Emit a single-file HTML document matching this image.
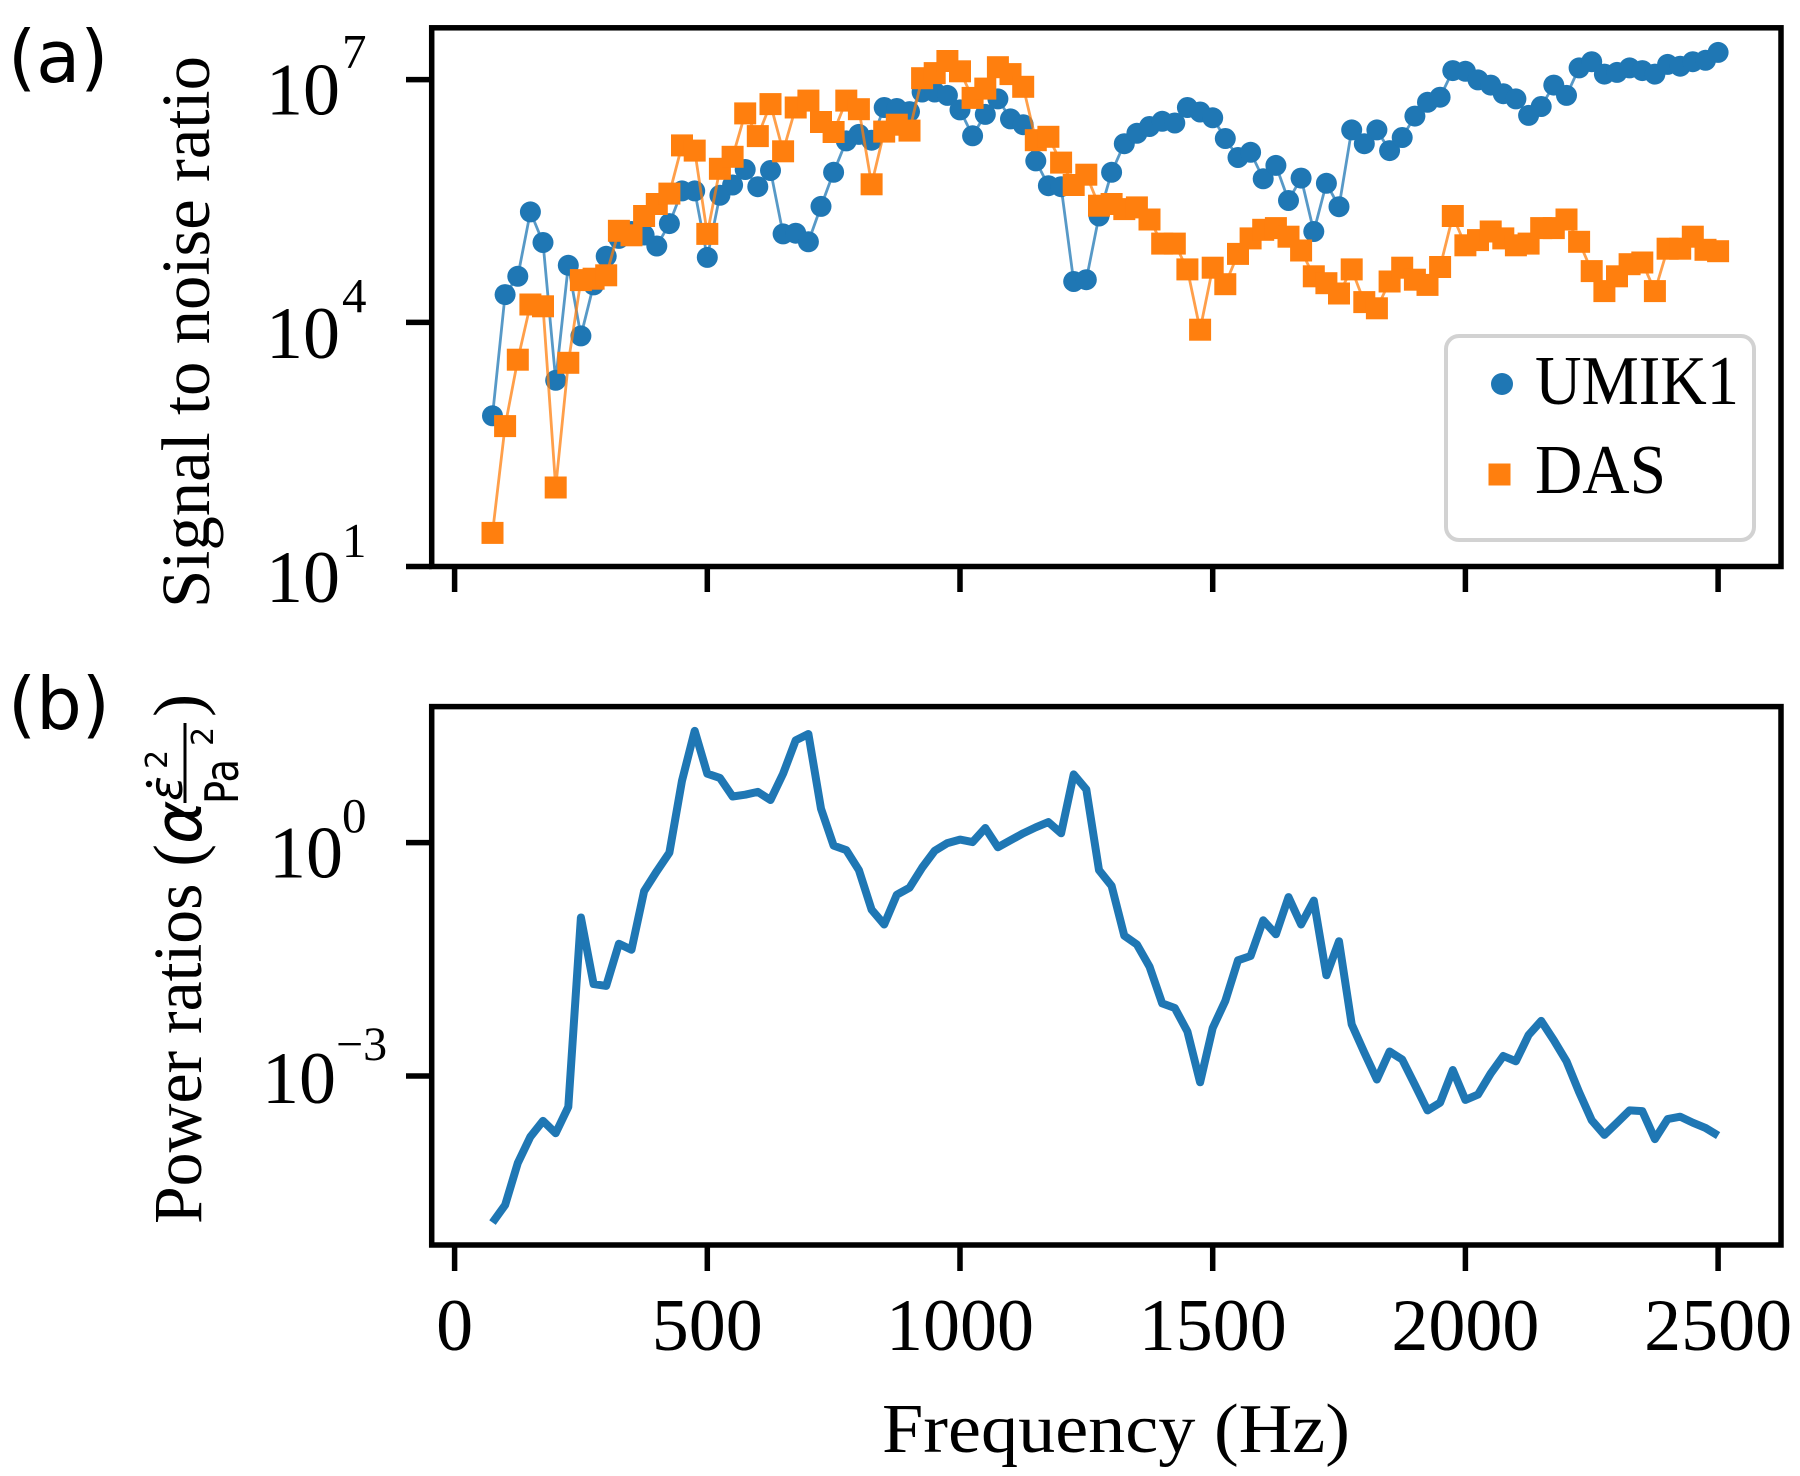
<!DOCTYPE html>
<html>
<head>
<meta charset="utf-8">
<style>
html,body{margin:0;padding:0;background:#fff;}
svg{display:block;}
.serif{font-family:"Liberation Serif","Times New Roman",serif;fill:#000;}
.sans{font-family:"DejaVu Sans","Liberation Sans",sans-serif;fill:#000;}
</style>
</head>
<body>
<svg width="1800" height="1476" viewBox="0 0 1800 1476" xmlns="http://www.w3.org/2000/svg">
<defs>
  <marker id="mc" markerUnits="userSpaceOnUse" markerWidth="24" markerHeight="24" refX="12" refY="12" viewBox="0 0 24 24" overflow="visible">
    <circle cx="12" cy="12" r="10.5" fill="#1f77b4"/>
  </marker>
  <marker id="ms" markerUnits="userSpaceOnUse" markerWidth="24" markerHeight="24" refX="12" refY="12" viewBox="0 0 24 24" overflow="visible">
    <rect x="1" y="1" width="22" height="22" fill="#ff7f0e"/>
  </marker>
</defs>

<!-- ===== Panel (a) ===== -->
<text class="sans" x="8" y="82" font-size="72">(a)</text>

<!-- UMIK1 series -->
<polyline fill="none" stroke="#1f77b4" stroke-opacity="0.75" stroke-width="2.8" stroke-linejoin="round"
 marker-start="url(#mc)" marker-mid="url(#mc)" marker-end="url(#mc)"
 points="492.5,415.8 505.1,294.6 517.8,276.3 530.4,211.9 543.0,242.5 555.7,380.3 568.3,265.3 580.9,335.9 593.6,284.9 606.2,256.3 618.9,238.4 631.5,231.5 644.1,235.0 656.8,246.0 669.4,223.6 682.0,190.9 694.7,190.9 707.3,257.4 719.9,195.3 732.6,185.0 745.2,169.5 757.8,186.7 770.5,170.5 783.1,233.9 795.7,233.2 808.4,241.8 821.0,206.4 833.6,172.3 846.3,140.9 858.9,134.4 871.6,140.2 884.2,107.5 896.8,108.5 909.5,111.6 922.1,92.0 934.7,92.0 947.4,95.4 960.0,109.9 972.6,135.8 985.3,114.4 997.9,98.9 1010.5,118.9 1023.2,124.7 1035.8,160.9 1048.4,185.7 1061.1,186.7 1073.7,281.5 1086.3,279.7 1099.0,216.0 1111.6,172.3 1124.3,143.7 1136.9,133.3 1149.5,126.5 1162.2,121.3 1174.8,123.0 1187.4,107.5 1200.1,112.0 1212.7,117.8 1225.3,138.5 1238.0,157.5 1250.6,152.3 1263.2,178.8 1275.9,165.4 1288.5,200.5 1301.1,178.1 1313.8,231.5 1326.4,183.3 1339.0,206.7 1351.7,129.9 1364.3,143.7 1376.9,129.9 1389.6,150.6 1402.2,137.5 1414.9,116.1 1427.5,102.3 1440.1,97.2 1452.8,70.6 1465.4,71.3 1478.0,79.9 1490.7,85.1 1503.3,93.7 1515.9,98.9 1528.6,115.4 1541.2,106.5 1553.8,85.1 1566.5,95.4 1579.1,67.9 1591.7,61.7 1604.4,74.1 1617.0,72.4 1629.6,67.9 1642.3,70.6 1654.9,74.1 1667.6,64.4 1680.2,66.2 1692.8,61.7 1705.5,60.3 1718.1,52.4"/>

<!-- DAS series -->
<polyline fill="none" stroke="#ff7f0e" stroke-opacity="0.75" stroke-width="2.8" stroke-linejoin="round"
 marker-start="url(#ms)" marker-mid="url(#ms)" marker-end="url(#ms)"
 points="492.5,532.9 505.1,426.1 517.8,359.7 530.4,304.5 543.0,306.3 555.7,487.5 568.3,362.8 580.9,280.1 593.6,278.7 606.2,275.3 618.9,230.8 631.5,235.3 644.1,216.0 656.8,204.0 669.4,193.6 682.0,145.4 694.7,150.6 707.3,233.9 719.9,168.8 732.6,156.8 745.2,113.4 757.8,136.1 770.5,104.1 783.1,151.3 795.7,107.5 808.4,100.6 821.0,122.0 833.6,132.0 846.3,100.6 858.9,109.2 871.6,184.3 884.2,131.6 896.8,124.7 909.5,130.6 922.1,78.2 934.7,73.1 947.4,61.0 960.0,71.3 972.6,97.9 985.3,88.6 997.9,67.2 1010.5,74.1 1023.2,86.8 1035.8,140.2 1048.4,136.8 1061.1,162.6 1073.7,185.0 1086.3,174.7 1099.0,205.7 1111.6,204.0 1124.3,209.1 1136.9,207.4 1149.5,219.5 1162.2,243.6 1174.8,243.6 1187.4,269.4 1200.1,329.7 1212.7,267.7 1225.3,284.2 1238.0,253.9 1250.6,238.4 1263.2,229.8 1275.9,228.1 1288.5,236.7 1301.1,250.5 1313.8,276.3 1326.4,283.2 1339.0,293.5 1351.7,269.4 1364.3,302.1 1376.9,308.3 1389.6,281.5 1402.2,267.7 1414.9,279.7 1427.5,284.9 1440.1,267.0 1452.8,216.0 1465.4,245.3 1478.0,240.1 1490.7,231.5 1503.3,238.4 1515.9,245.3 1528.6,243.6 1541.2,228.1 1553.8,228.1 1566.5,219.5 1579.1,241.8 1591.7,271.1 1604.4,291.1 1617.0,276.3 1629.6,264.2 1642.3,262.5 1654.9,291.1 1667.6,248.7 1680.2,248.7 1692.8,236.7 1705.5,249.8 1718.1,251.2"/>

<!-- Legend -->
<rect x="1446" y="336" width="308" height="204" rx="13" ry="13" fill="#ffffff" fill-opacity="0.85" stroke="#d2d2d2" stroke-width="4"/>
<circle cx="1502" cy="384" r="11" fill="#1f77b4"/>
<rect x="1488.5" y="463.5" width="22" height="22" fill="#ff7f0e"/>
<text class="serif" x="1535" y="404" font-size="70" textLength="204" lengthAdjust="spacingAndGlyphs">UMIK1</text>
<text class="serif" x="1535" y="493" font-size="70" textLength="131" lengthAdjust="spacingAndGlyphs">DAS</text>

<!-- Axes frame (a) -->
<rect x="431.7" y="27.8" width="1349.3" height="538.7" fill="none" stroke="#000" stroke-width="5.5"/>
<!-- x ticks (a) -->
<g stroke="#000" stroke-width="5.5">
  <line x1="454.6" y1="566.5" x2="454.6" y2="592"/>
  <line x1="707.3" y1="566.5" x2="707.3" y2="592"/>
  <line x1="960.0" y1="566.5" x2="960.0" y2="592"/>
  <line x1="1212.7" y1="566.5" x2="1212.7" y2="592"/>
  <line x1="1465.4" y1="566.5" x2="1465.4" y2="592"/>
  <line x1="1718.1" y1="566.5" x2="1718.1" y2="592"/>
  <line x1="406" y1="79.6" x2="431.7" y2="79.6"/>
  <line x1="406" y1="322.4" x2="431.7" y2="322.4"/>
  <line x1="406" y1="566.5" x2="431.7" y2="566.5"/>
</g>
<!-- y tick labels (a) -->
<text class="serif" x="266" y="114.5" font-size="74">10</text>
<text class="serif" x="342" y="68" font-size="49">7</text>
<text class="serif" x="266" y="358" font-size="74">10</text>
<text class="serif" x="342" y="312" font-size="49">4</text>
<text class="serif" x="266" y="602" font-size="74">10</text>
<text class="serif" x="342" y="557" font-size="49">1</text>

<!-- y label (a) -->
<text class="serif" transform="translate(209,608) rotate(-90)" x="0" y="0" font-size="69" textLength="552" lengthAdjust="spacingAndGlyphs">Signal to noise ratio</text>

<!-- ===== Panel (b) ===== -->
<text class="sans" x="8" y="729" font-size="72">(b)</text>

<polyline fill="none" stroke="#1f77b4" stroke-width="8" stroke-linejoin="round" stroke-linecap="butt"
 points="492.5,1222.6 505.1,1205.1 517.8,1163.0 530.4,1136.7 543.0,1120.9 555.7,1133.2 568.3,1106.9 580.9,917.5 593.6,984.1 606.2,985.9 618.9,943.8 631.5,949.7 644.1,891.2 656.8,871.2 669.4,852.6 682.0,780.7 694.7,730.9 707.3,773.7 719.9,777.9 732.6,796.5 745.2,794.7 757.8,791.9 770.5,800.0 783.1,773.7 795.7,740.3 808.4,734.0 821.0,808.7 833.6,845.6 846.3,850.1 858.9,870.1 871.6,909.7 884.2,924.5 896.8,894.7 909.5,887.7 922.1,867.7 934.7,850.8 947.4,843.1 960.0,839.6 972.6,842.1 985.3,828.0 997.9,847.3 1010.5,840.3 1023.2,833.3 1035.8,827.3 1048.4,822.1 1061.1,833.3 1073.7,774.4 1086.3,789.4 1099.0,870.1 1111.6,885.9 1124.3,935.7 1136.9,944.5 1149.5,966.6 1162.2,1003.4 1174.8,1008.0 1187.4,1031.5 1200.1,1082.3 1212.7,1028.0 1225.3,1000.9 1238.0,960.3 1250.6,956.0 1263.2,920.3 1275.9,934.3 1288.5,897.1 1301.1,924.5 1313.8,900.6 1326.4,975.3 1339.0,941.3 1351.7,1024.4 1364.3,1052.5 1376.9,1079.5 1389.6,1051.5 1402.2,1059.5 1414.9,1084.8 1427.5,1110.4 1440.1,1102.7 1452.8,1070.0 1465.4,1099.9 1478.0,1094.6 1490.7,1073.5 1503.3,1056.0 1515.9,1061.3 1528.6,1035.0 1541.2,1020.9 1553.8,1040.2 1566.5,1061.3 1579.1,1092.1 1591.7,1120.2 1604.4,1134.9 1617.0,1122.7 1629.6,1110.4 1642.3,1111.1 1654.9,1139.1 1667.6,1119.1 1680.2,1116.7 1692.8,1122.7 1705.5,1127.9 1718.1,1135.6"/>

<!-- Axes frame (b) -->
<rect x="431.7" y="706.6" width="1349.3" height="538.4" fill="none" stroke="#000" stroke-width="5.5"/>
<g stroke="#000" stroke-width="5.5">
  <line x1="454.6" y1="1245" x2="454.6" y2="1271"/>
  <line x1="707.3" y1="1245" x2="707.3" y2="1271"/>
  <line x1="960.0" y1="1245" x2="960.0" y2="1271"/>
  <line x1="1212.7" y1="1245" x2="1212.7" y2="1271"/>
  <line x1="1465.4" y1="1245" x2="1465.4" y2="1271"/>
  <line x1="1718.1" y1="1245" x2="1718.1" y2="1271"/>
  <line x1="406" y1="842.6" x2="431.7" y2="842.6"/>
  <line x1="406" y1="1076" x2="431.7" y2="1076"/>
</g>
<!-- y tick labels (b) -->
<text class="serif" x="269" y="877.6" font-size="74">10</text>
<text class="serif" x="342" y="832" font-size="49">0</text>
<text class="serif" x="262" y="1103" font-size="74">10</text>
<text class="serif" x="336" y="1060" font-size="48">−3</text>

<!-- x tick labels -->
<g class="serif" font-size="74" text-anchor="middle">
  <text x="454.6" y="1350">0</text>
  <text x="707.3" y="1350">500</text>
  <text x="960.0" y="1350">1000</text>
  <text x="1212.7" y="1350">1500</text>
  <text x="1465.4" y="1350">2000</text>
  <text x="1718.1" y="1350">2500</text>
</g>

<!-- x label -->
<text class="serif" x="882" y="1452" font-size="70" textLength="468" lengthAdjust="spacingAndGlyphs">Frequency (Hz)</text>

<!-- y label (b) -->
<g transform="translate(201,1224) rotate(-90)">
  <text class="serif" x="0" y="0" font-size="69" textLength="380" lengthAdjust="spacingAndGlyphs">Power ratios (</text>
  <text class="sans" x="380" y="0" font-size="66" font-style="italic">α</text>
  <!-- numerator -->
  <text class="sans" x="423" y="-19" font-size="46" font-style="italic">ε</text>
  <circle cx="440" cy="-52" r="3.2" fill="#000"/>
  <text class="sans" x="455" y="-34" font-size="30">2</text>
  <!-- fraction bar -->
  <line x1="421" y1="-16" x2="501" y2="-16" stroke="#000" stroke-width="3"/>
  <!-- denominator -->
  <text class="sans" x="420" y="37" font-size="46" textLength="45" lengthAdjust="spacingAndGlyphs">Pa</text>
  <text class="sans" x="478" y="12" font-size="30">2</text>
  <text class="serif" x="507" y="0" font-size="69">)</text>
</g>
</svg>
</body>
</html>
